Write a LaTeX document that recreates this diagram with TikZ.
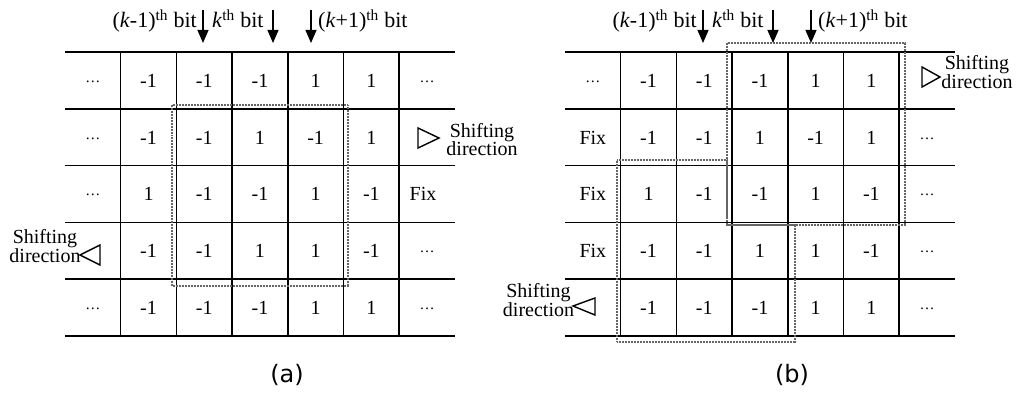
\documentclass[tikz,border=0pt]{standalone}
\usepackage{fontspec}
\setmainfont{Liberation Serif}
\newfontfamily\capfont{DejaVu Sans}
\usetikzlibrary{arrows.meta}
\newcommand\dd{\raisebox{5pt}{\fontsize{15}{15}\selectfont\ldots}}
\newcommand\fillrow[4]{%
  \foreach \c/\v in {#4}{%
    \node[cell] (#1-#3-\c) at ({#2+65+55.7*(\c-0.5)}, {52+56.8*(#3-0.5)+6.8}) {\v};
  }}
\begin{document}
\begin{tikzpicture}[x=1pt,y=-1pt,
  gridline/.style={line width=1.5pt},
  selbox/.style={draw=black!60, dash pattern=on 0.8pt off 0.7pt, line width=2.6pt},
  cell/.style={anchor=base, inner sep=0pt, font=\fontsize{20}{22}\selectfont},
  lbl/.style={align=center, inner sep=0pt, font=\fontsize{20}{18.5}\selectfont},
  head/.style={inner sep=0pt, font=\fontsize{22}{24}\selectfont},
  tri/.style={draw, line width=1.4pt, line join=miter},
  bitarrow/.style={line width=1.2pt, -{Triangle[length=13pt,width=11pt]}},
  captext/.style={inner sep=0pt, font=\capfont\fontsize{24}{26}\selectfont}
]
\useasboundingbox (0,0) rectangle (1016,393);

% grids
\foreach \ox in {0,500}{
  \foreach \yy in {52,108.8,165.6,222.4,279.2,336}
    \draw[gridline] ({\ox+65},\yy) -- ({\ox+455},\yy);
  \foreach \i in {1,...,6}
    \draw[gridline] ({\ox+65+55.7*\i},52) -- ({\ox+65+55.7*\i},336);
}

% headers and bit arrows
\foreach \p/\ox in {a/0,b/500}{
  \node[head, anchor=base east] (\p-h1) at ({\ox+197},28) {(\textit{k}-1)\textsuperscript{th} bit};
  \node[head, anchor=base west] (\p-h2) at ({\ox+212},28) {\textit{k}\textsuperscript{th} bit};
  \node[head, anchor=base west] (\p-h3) at ({\ox+318},28) {(\textit{k}+1)\textsuperscript{th} bit};
  \foreach \n/\x in {1/203,2/273,3/311}{
    \coordinate (\p-s\n) at ({\ox+\x},10);
    \coordinate (\p-t\n) at ({\ox+\x},43);
    \draw[bitarrow] (\p-s\n) -- (\p-t\n);
  }
}

% panel (a) cells
\fillrow{a}{0}{1}{1/\dd,2/-1,3/-1,4/-1,5/1,6/1,7/\dd}
\fillrow{a}{0}{2}{1/\dd,2/-1,3/-1,4/1,5/-1,6/1}
\fillrow{a}{0}{3}{1/\dd,2/1,3/-1,4/-1,5/1,6/-1}
\fillrow{a}{0}{4}{2/-1,3/-1,4/1,5/1,6/-1,7/\dd}
\fillrow{a}{0}{5}{1/\dd,2/-1,3/-1,4/-1,5/1,6/1,7/\dd}
\node[cell] (a-3-7) at (423,{52+56.8*2.5+6.8}) {Fix};

% panel (b) cells
\fillrow{b}{500}{1}{1/\dd,2/-1,3/-1,4/-1,5/1,6/1}
\fillrow{b}{500}{2}{1/Fix,2/-1,3/-1,4/1,5/-1,6/1,7/\dd}
\fillrow{b}{500}{3}{1/Fix,2/1,3/-1,4/-1,5/1,6/-1,7/\dd}
\fillrow{b}{500}{4}{1/Fix,2/-1,3/-1,4/1,5/1,6/-1,7/\dd}
\fillrow{b}{500}{5}{2/-1,3/-1,4/-1,5/1,6/1,7/\dd}

% selection boxes
\draw[selbox] (172,105) rectangle (348,286);
\draw[selbox] (727,43) rectangle (905,225);
\draw[selbox] (617,160) -- (727,160) -- (727,225) -- (795,225) -- (795,342) -- (617,342) -- cycle;

% shifting direction labels
\node[lbl] (a-shr) at (482,139.5) {Shifting\\direction};
\draw[tri] (418,128) -- (418,148) -- (439,138) -- cycle;
\node[lbl] (a-shl) at (45,246) {Shifting\\direction};
\draw[tri] (80,255) -- (100,245) -- (100,265) -- cycle;
\node[lbl] (b-shr) at (977,72) {Shifting\\direction};
\draw[tri] (922,67) -- (922,87) -- (940,77) -- cycle;
\node[lbl] (b-shl) at (538.5,300) {Shifting\\direction};
\draw[tri] (573,306) -- (595,298) -- (595,315) -- cycle;

% captions
\node[captext] (capa) at (287,375) {(a)};
\node[captext] (capb) at (792,375) {(b)};
\end{tikzpicture}
\end{document}
